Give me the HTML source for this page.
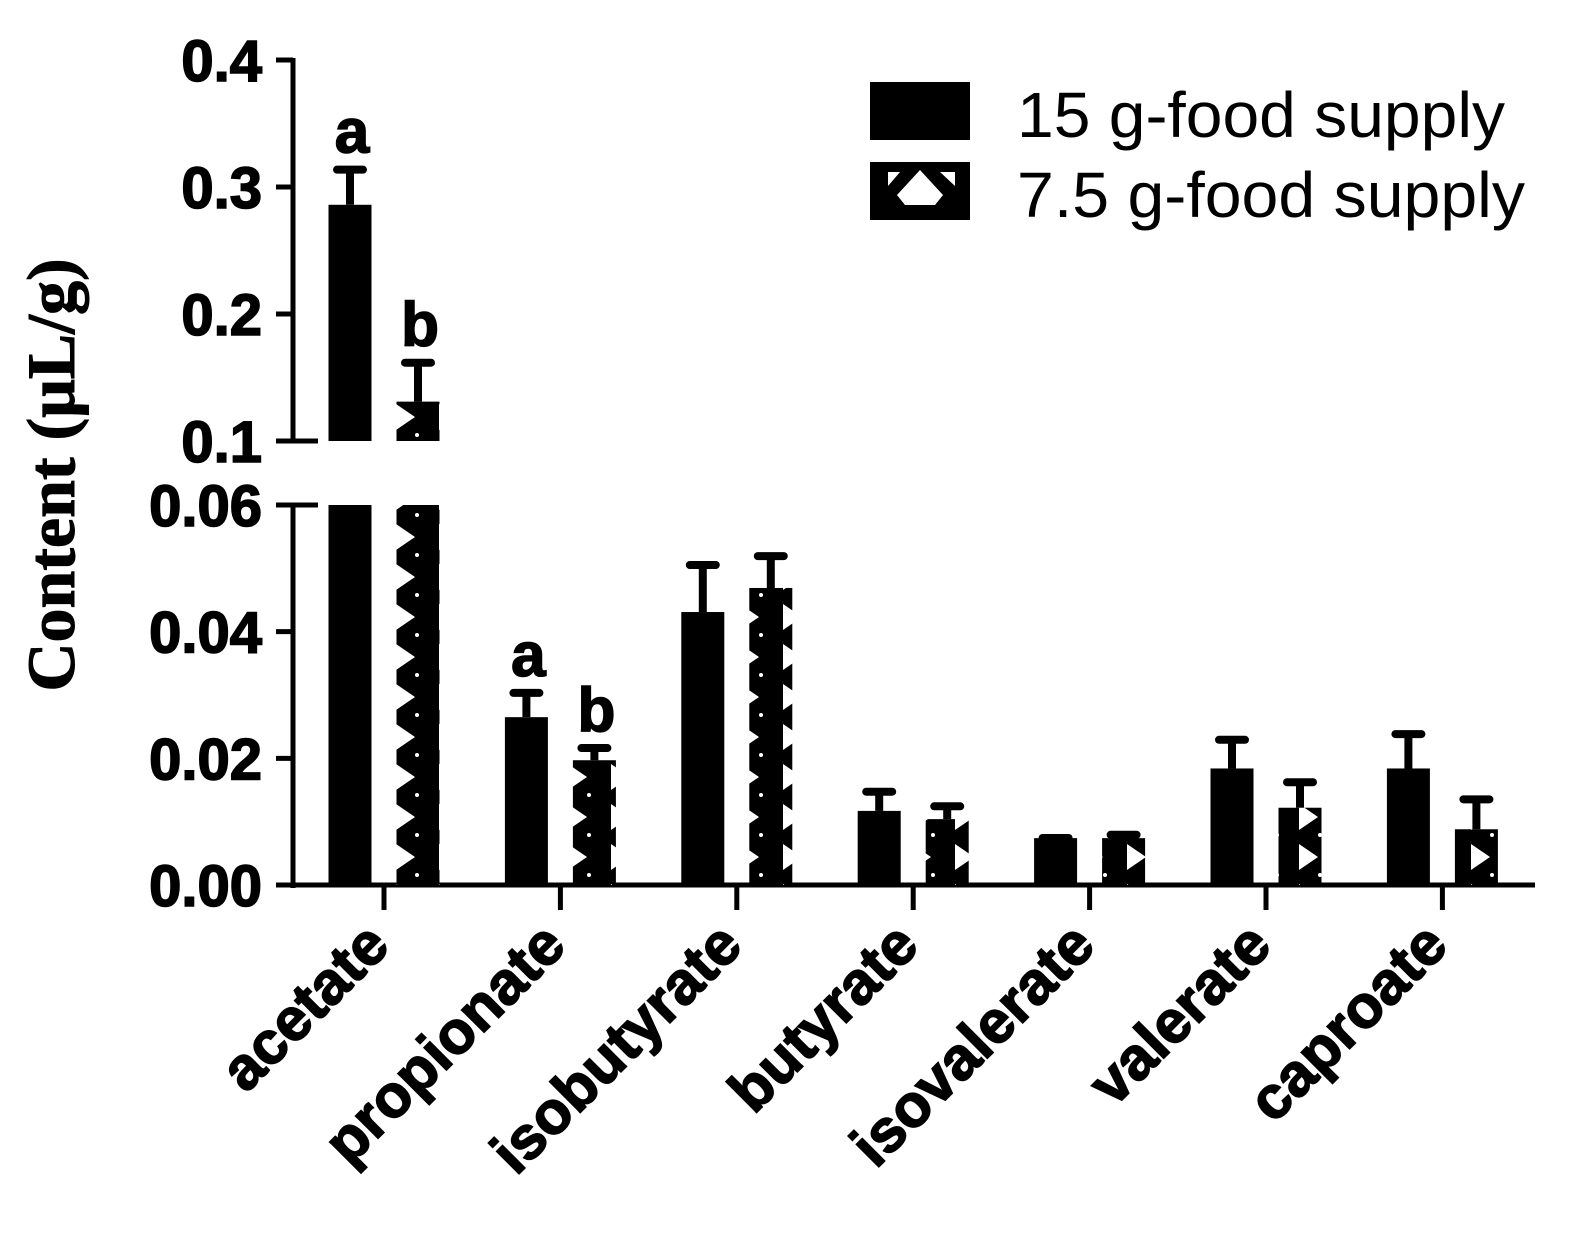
<!DOCTYPE html>
<html><head><meta charset="utf-8"><style>
html,body{margin:0;padding:0;background:#fff;}
svg{display:block;}
</style></head><body>
<svg id="chart" width="1583" height="1241" viewBox="0 0 1583 1241" xmlns="http://www.w3.org/2000/svg">
<defs>
<pattern id="hatch" patternUnits="userSpaceOnUse" width="43" height="40" x="0" y="0">
<rect width="43" height="40" fill="#000"/>
<polygon points="9,4 9,30 28,17" fill="#fff"/>
<circle cx="30" cy="35" r="2" fill="#fff"/>
</pattern>
</defs>
<g id="plot"></g>
</svg>
<script>
const categories = ["acetate","propionate","isobutyrate","butyrate","isovalerate","valerate","caproate"];
const series15 = [0.286,0.0265,0.0431,0.0117,0.0074,0.0184,0.0184];
const err15 = [0.030,0.0043,0.0079,0.0035,0.0005,0.0050,0.0059];
const series75 = [0.131,0.0197,0.0469,0.0104,0.0074,0.0122,0.0088];
const err75 = [0.033,0.0024,0.0055,0.0025,0.0010,0.0045,0.0052];
const lowerTicks = ["0.00","0.02","0.04","0.06"];
const lowerTickVals = [0,0.02,0.04,0.06];
const upperTicks = ["0.1","0.2","0.3","0.4"];
const upperTickVals = [0.1,0.2,0.3,0.4];
const letters15 = ["a","a","","","","",""];
const letters75 = ["b","b","","","","",""];

const NS="http://www.w3.org/2000/svg";
const g=document.getElementById('plot');
function el(t,a,txt){const e=document.createElementNS(NS,t);for(const k in a)e.setAttribute(k,a[k]);if(txt!==undefined)e.textContent=txt;g.appendChild(e);return e;}
function y(v){ if(v<=0.06) return 885 - v/0.06*380; if(v<0.1) return 505; return 441 - (v-0.1)/0.3*381; }
function xc(i){ return 384 + i*176.4; }
const BW=43, OFF=34;

let a;
a=el('line',{x1:293,y1:58,x2:293,y2:443,stroke:'#000','stroke-width':5});

a=el('line',{x1:293,y1:503,x2:293,y2:888,stroke:'#000','stroke-width':5});

a=el('line',{x1:291,y1:885,x2:1535,y2:885,stroke:'#000','stroke-width':5});


const tf='font-family:"Liberation Sans",Arial,sans-serif;font-weight:bold;stroke:#000;stroke-width:1.6px;';
lowerTickVals.forEach((v,i)=>{
  const t=el('line',{x1:276,y1:y(v),x2:293,y2:y(v),stroke:'#000','stroke-width':5});
  
  const l=el('text',{x:262,y:y(v)+21,'text-anchor':'end',style:tf+'font-size:58px;'},lowerTicks[i]);
  
});
upperTickVals.forEach((v,i)=>{
  const t=el('line',{x1:276,y1:y(v),x2:(v===0.1?318:293),y2:y(v),stroke:'#000','stroke-width':5});
  
  const l=el('text',{x:262,y:y(v)+21,'text-anchor':'end',style:tf+'font-size:58px;'},upperTicks[i]);
  
});
a=el('line',{x1:293,y1:505,x2:318,y2:505,stroke:'#000','stroke-width':5});


function bar(i,v,e,dx,fill,letter,nm){
  const cx=xc(i)+dx, x0=cx-BW/2;
  const top=y(v);
  if(v>0.06){
    const r1=el('rect',{x:x0,y:505,width:BW,height:885-505,fill:fill});
    
    const r2=el('rect',{x:x0,y:top,width:BW,height:441-top,fill:fill});
    
  } else {
    const r=el('rect',{x:x0,y:top,width:BW,height:885-top,fill:fill});
    
  }
  const et=y(v+e);
  const l=el('line',{x1:cx,y1:top,x2:cx,y2:et,stroke:'#000','stroke-width':8});
  
  const c=el('line',{x1:cx-13,y1:et+3,x2:cx+13,y2:et+3,stroke:'#000','stroke-width':8,'stroke-linecap':'round'});
  
  if(letter){
    const t=el('text',{x:cx+2,y:et-14,'text-anchor':'middle',style:tf+'font-size:62px;'},letter);
    
  }
}
categories.forEach((c,i)=>{
  bar(i,series15[i],err15[i],-OFF,'#000',letters15[i],'bar-15g-'+c);
  bar(i,series75[i],err75[i],OFF,'url(#hatch)',letters75[i],'bar-7-5g-'+c);
  const t=el('line',{x1:xc(i),y1:885,x2:xc(i),y2:910,stroke:'#000','stroke-width':5});
  
  const lx=xc(i)+8, ly=948;
  const l=el('text',{x:lx,y:ly,'text-anchor':'end',transform:`rotate(-45 ${lx} ${ly})`,style:tf+'font-size:60px;'},c);
  
});

a=el('text',{x:0,y:0,'text-anchor':'middle',transform:'translate(74 475) rotate(-90)',style:'font-family:"Liberation Serif",serif;font-weight:bold;font-size:68px;stroke:#000;stroke-width:1px;'},'Content (μL/g)');


a=el('rect',{x:870,y:82,width:100,height:58,fill:'#000'});

a=el('rect',{x:870,y:162,width:100,height:58,fill:'#000'});

a=el('polygon',{points:'905,205 935,205 943,195 920,170 897,195',fill:'#fff'});

a=el('polygon',{points:'888,172 900,172 888,186',fill:'#fff'});

a=el('polygon',{points:'940,172 955,172 955,186',fill:'#fff'});

const lf='font-family:"Liberation Sans",Arial,sans-serif;font-size:64px;';
a=el('text',{x:1017,y:137,textLength:488,lengthAdjust:'spacingAndGlyphs',style:lf},'15 g-food supply');

a=el('text',{x:1017,y:217,textLength:508,lengthAdjust:'spacingAndGlyphs',style:lf},'7.5 g-food supply');

</script>
</body></html>
